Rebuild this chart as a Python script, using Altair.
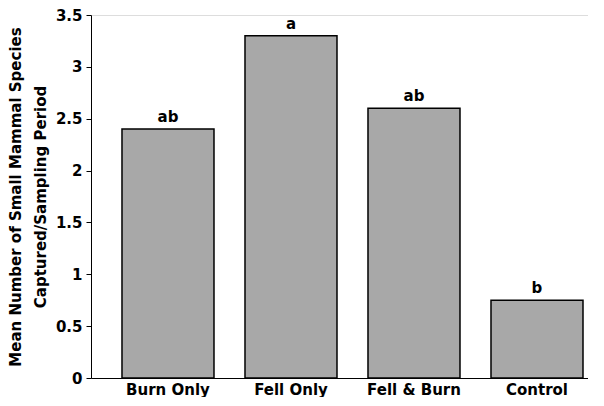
import altair as alt
import pandas as pd

treatments = ["Burn Only", "Fell Only", "Fell & Burn", "Control"]
means = [2.4, 3.3, 2.6, 0.75]
letters = ["ab", "a", "ab", "b"]

df = pd.DataFrame({"treatment": treatments, "mean": means, "letter": letters})

FONT = "DejaVu Sans"

x = alt.X("treatment:N", sort=treatments, title=None,
          scale=alt.Scale(paddingInner=0.252, paddingOuter=0.1463, align=0.861),
          axis=alt.Axis(labelAngle=0, ticks=False, domainColor="black", domainWidth=1,
                        labelFont=FONT, labelFontWeight="bold", labelFontSize=15,
                        labelColor="black", labelPadding=4))
y = alt.Y("mean:Q", title=["Mean Number of Small Mammal Species", "Captured/Sampling Period"],
          scale=alt.Scale(domain=[0, 3.5], nice=False),
          axis=alt.Axis(values=[0, 0.5, 1, 1.5, 2, 2.5, 3, 3.5], grid=False,
                        labelExpr="datum.value", labelFont=FONT, labelFontWeight="bold",
                        labelFontSize=15, labelColor="black", tickColor="black", tickSize=5,
                        domainColor="black", labelPadding=4,
                        titleFont=FONT, titleFontWeight="bold", titleFontSize=15,
                        titleColor="black", titlePadding=7, titleLineHeight=25))

bars = alt.Chart(df).mark_bar(color="#a8a8a8", stroke="black", strokeWidth=1.5).encode(x=x, y=y)
text = alt.Chart(df).mark_text(dy=-12, font=FONT, fontWeight="bold", fontSize=15,
                               color="black").encode(x=x, y=y, text="letter:N")

chart = (bars + text).properties(
    width=497, height=363,
    autosize=alt.AutoSizeParams(type="none"),
    padding={"left": 83, "top": 7, "right": 0, "bottom": 19},
).configure_view(stroke=None).configure(background="white")

chart.save("out.html", embed_options={"renderer": "svg", "actions": False})
